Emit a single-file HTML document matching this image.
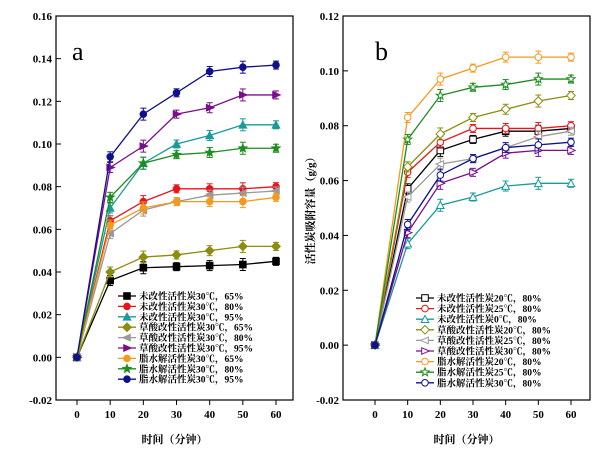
<!DOCTYPE html>
<html><head><meta charset="utf-8"><style>
body{margin:0;background:#fff;}
svg{display:block;font-family:"Liberation Serif","Noto Serif CJK SC",serif;}
</style></head><body>
<svg id="s" width="600" height="454" xmlns="http://www.w3.org/2000/svg"></svg>
<script>
const S=document.getElementById('s');let h='';
const xs=[0,10,20,30,40,50,60];
function panel(P){
 const {x0,x1,yT,yB,ymin,ymax,step,xa,xb,ser,lab,lx,ly,lw,open}=P;
 const X=t=>xa+(xb-xa)*t/60, Y=v=>yB-(v-ymin)/(ymax-ymin)*(yB-yT);
 h+=`<rect x="${x0}" y="${yT}" width="${x1-x0}" height="${yB-yT}" fill="none" stroke="#000" stroke-width="1.2"/>`;
 for(let v=ymin;v<=ymax+1e-9;v+=step){const y=Y(v);h+=`<line x1="${x0}" x2="${x0+5}" y1="${y}" y2="${y}" stroke="#000"/><text x="${x0-4}" y="${y+4}" font-size="11" font-weight="bold" text-anchor="end">${v.toFixed(2)}</text>`;}
 for(const t of xs){const x=X(t);h+=`<line x1="${x}" x2="${x}" y1="${yB}" y2="${yB+5}" stroke="#000"/><text x="${x}" y="${yB+18}" font-size="11" font-weight="bold" text-anchor="middle">${t}</text>`;}
 h+=`<text x="${(x0+x1)/2}" y="${yB+43}" font-size="11" font-weight="bold" text-anchor="middle">时间（分钟）</text>`;
 h+=`<text x="${lab[1]}" y="60" font-size="26">${lab[0]}</text>`;
 ser.forEach((s,i)=>{
  const pts=s.d.map((v,j)=>[X(xs[j]),Y(v)]);
  h+=`<polyline points="${pts.map(p=>p.join(',')).join(' ')}" fill="none" stroke="${s.c}" stroke-width="1.3"/>`;
  pts.forEach((p,j)=>{if(j>0){const e=4+ (j%3);h+=`<line x1="${p[0]}" x2="${p[0]}" y1="${p[1]-e}" y2="${p[1]+e}" stroke="${s.c}"/><line x1="${p[0]-3}" x2="${p[0]+3}" y1="${p[1]-e}" y2="${p[1]-e}" stroke="${s.c}"/><line x1="${p[0]-3}" x2="${p[0]+3}" y1="${p[1]+e}" y2="${p[1]+e}" stroke="${s.c}"/>`;}
   h+=mk(s.m,p[0],p[1],s.c,open&&j>0);});
  const yy=ly+i*lw;
  h+=`<line x1="${lx-9}" x2="${lx+9}" y1="${yy}" y2="${yy}" stroke="${s.c}" stroke-width="1.3"/>`+mk(s.m,lx,yy,s.c,open);
  h+=`<text x="${lx+12}" y="${yy+3.5}" font-size="9.5" font-weight="bold">${s.n}</text>`;
 });
}
function mk(m,x,y,c,o){const f=o?'#fff':c;const st=`fill="${f}" stroke="${c}" stroke-width="1"`;const r=3.3;
 if(m=='s')return `<rect x="${x-r}" y="${y-r}" width="${2*r}" height="${2*r}" ${st}/>`;
 if(m=='o')return `<circle cx="${x}" cy="${y}" r="${r}" ${st}/>`;
 if(m=='^')return `<polygon points="${x},${y-r-.5} ${x-r-.5},${y+r} ${x+r+.5},${y+r}" ${st}/>`;
 if(m=='d')return `<polygon points="${x},${y-r-1} ${x+r+1},${y} ${x},${y+r+1} ${x-r-1},${y}" ${st}/>`;
 if(m=='<')return `<polygon points="${x-r-1},${y} ${x+r},${y-r} ${x+r},${y+r}" ${st}/>`;
 if(m=='>')return `<polygon points="${x+r+1},${y} ${x-r},${y-r} ${x-r},${y+r}" ${st}/>`;
 if(m=='*'){let p=[];for(let k=0;k<10;k++){const a=-Math.PI/2+k*Math.PI/5,rr=k%2?1.8:4.3;p.push((x+rr*Math.cos(a)).toFixed(1)+','+(y+rr*Math.sin(a)).toFixed(1));}return `<polygon points="${p.join(' ')}" ${st}/>`;}
}
const C=['#000','#e8141a','#1a9a9a','#8c8c10','#9a9a9a','#7a0f8c','#f39a1e','#1e8c1e','#10108c'];
const M=['s','o','^','d','<','>','o','*','o'];
const da=[[0,.036,.042,.0425,.043,.0435,.045],[0,.064,.073,.079,.079,.079,.080],[0,.070,.091,.100,.104,.109,.109],[0,.040,.047,.048,.050,.052,.052],[0,.058,.069,.073,.076,.077,.078],[0,.089,.099,.114,.117,.123,.123],[0,.062,.070,.073,.073,.073,.075],[0,.075,.091,.095,.096,.098,.098],[0,.094,.114,.124,.134,.136,.137]];
const na=['未改性活性炭30℃，65%','未改性活性炭30℃，80%','未改性活性炭30℃，95%','草酸改性活性炭30℃，65%','草酸改性活性炭30℃，80%','草酸改性活性炭30℃，95%','脂水解活性炭30℃，65%','脂水解活性炭30℃，80%','脂水解活性炭30℃，95%'];
const db=[[0,.057,.071,.075,.078,.078,.079],[0,.063,.074,.079,.079,.079,.080],[0,.037,.051,.054,.058,.059,.059],[0,.065,.077,.083,.086,.089,.091],[0,.054,.066,.068,.072,.076,.078],[0,.041,.059,.063,.070,.071,.071],[0,.083,.097,.101,.105,.105,.105],[0,.075,.091,.094,.095,.097,.097],[0,.044,.062,.068,.072,.073,.074]];
const nb=['未改性活性炭20℃，80%','未改性活性炭25℃，80%','未改性活性炭0℃，80%','草酸改性活性炭20℃，80%','草酸改性活性炭25℃，80%','草酸改性活性炭30℃，80%','脂水解活性炭20℃，80%','脂水解活性炭25℃，80%','脂水解活性炭30℃，80%'];
panel({x0:56,x1:293,yT:16,yB:400,ymin:-.02,ymax:.16,step:.02,xa:77,xb:276,ser:da.map((d,i)=>({d,c:C[i],m:M[i],n:na[i]})),lab:['a',72],lx:127,ly:296,lw:10.4,open:false});
panel({x0:343,x1:590,yT:16,yB:400,ymin:-.02,ymax:.12,step:.02,xa:375,xb:571,ser:db.map((d,i)=>({d,c:C[i],m:M[i],n:nb[i]})),lab:['b',375],lx:425,ly:298,lw:10.6,open:true});
h+=`<text transform="translate(314,208) rotate(-90)" font-size="11" font-weight="bold" text-anchor="middle">活性炭吸附容量（g/g）</text>`;
S.innerHTML=h;
</script>
</body></html>
